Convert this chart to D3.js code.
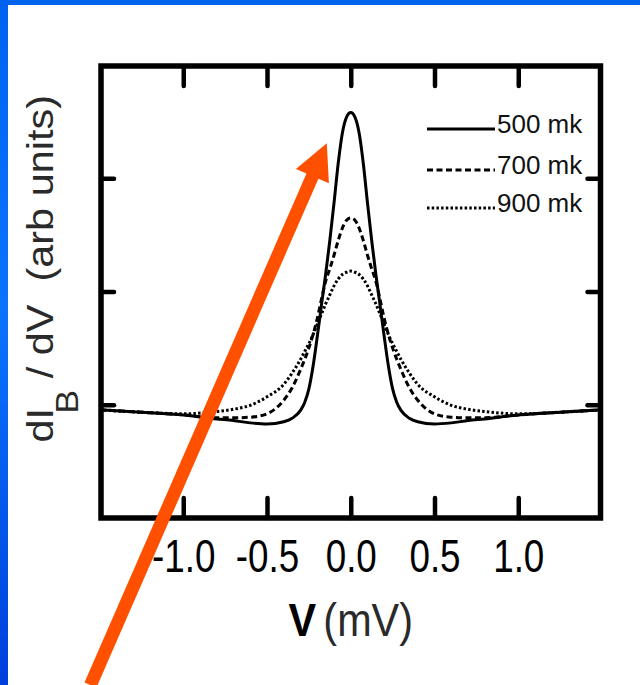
<!DOCTYPE html>
<html>
<head>
<meta charset="utf-8">
<script src="https://cdn.jsdelivr.net/npm/d3@7"></script>
<style>
  body { margin: 0; background: #fff; }
  text { font-family: 'Liberation Sans', Arial, sans-serif; }
</style>
</head>
<body>
<div id="wrapper"></div>
<script>
// bias voltage (mV) and conductance curves (arb units)
const voltage = [-1.5, -1.2, -1.0, -0.8, -0.7, -0.6, -0.5, -0.4, -0.35, -0.3, -0.275, -0.25, -0.225, -0.2, -0.175, -0.15, -0.125, -0.1, -0.075, -0.05, -0.025, 0,
  0.025, 0.05, 0.075, 0.1, 0.125, 0.15, 0.175, 0.2, 0.225, 0.25, 0.275, 0.3, 0.35, 0.4, 0.5, 0.6, 0.7, 0.8, 1.0, 1.2, 1.5]

const cond500 = [-0.045, -0.07, -0.09, -0.125, -0.14, -0.16, -0.17, -0.15, -0.12, -0.05, 0.02, 0.14, 0.34, 0.60, 0.88, 1.15, 1.45, 1.78, 2.13, 2.40, 2.54, 2.58,
  2.54, 2.40, 2.13, 1.78, 1.45, 1.15, 0.88, 0.60, 0.34, 0.14, 0.02, -0.05, -0.12, -0.15, -0.17, -0.16, -0.14, -0.125, -0.09, -0.07, -0.045]

const cond700 = [-0.045, -0.07, -0.09, -0.115, -0.115, -0.11, -0.08, 0.04, 0.15, 0.31, 0.40, 0.50, 0.62, 0.76, 0.93, 1.09, 1.20, 1.32, 1.45, 1.56, 1.63, 1.65,
  1.63, 1.56, 1.45, 1.32, 1.20, 1.09, 0.93, 0.76, 0.62, 0.50, 0.40, 0.31, 0.15, 0.04, -0.08, -0.11, -0.115, -0.115, -0.09, -0.07, -0.045]

const cond900 = [-0.045, -0.07, -0.08, -0.06, -0.04, -0.005, 0.07, 0.18, 0.28, 0.40, 0.47, 0.54, 0.62, 0.71, 0.80, 0.89, 0.97, 1.05, 1.11, 1.15, 1.17, 1.18,
  1.17, 1.15, 1.11, 1.05, 0.97, 0.89, 0.80, 0.71, 0.62, 0.54, 0.47, 0.40, 0.28, 0.18, 0.07, -0.005, -0.04, -0.06, -0.08, -0.07, -0.045]

const seriesNames = ['500 mk', '700 mk', '900 mk']
const xTicks = [-1, -0.5, 0, 0.5, 1]
const xTickLabels = ['-1.0', '-0.5', '0.0', '0.5', '1.0']
const yTicks = [0, 1, 2]

// the orange arrow, in data units: tail then tip
const arrowV = [-1.554, -0.143]
const arrowY = [-2.475, 2.31]

function drawChart() {
  const dimensions = {
    width: 640,
    height: 685,
    plot: { left: 99.5, right: 602, top: 65, bottom: 518 },
  }

  const svg = d3.select('#wrapper')
    .append('svg')
    .attr('width', dimensions.width)
    .attr('height', dimensions.height)
    .style('display', 'block')

  // slide frame
  const defs = svg.append('defs')
  const grad = defs.append('linearGradient')
    .attr('id', 'edge')
    .attr('x1', 0).attr('y1', 0).attr('x2', 0).attr('y2', 1)
  grad.append('stop').attr('offset', '0%').attr('stop-color', '#0063f0')
  grad.append('stop').attr('offset', '45%').attr('stop-color', '#0a74ff')
  grad.append('stop').attr('offset', '100%').attr('stop-color', '#0040dc')

  svg.append('rect')
    .attr('width', dimensions.width).attr('height', dimensions.height)
    .attr('fill', '#fff')
  svg.append('rect')
    .attr('width', 8).attr('height', dimensions.height)
    .attr('fill', 'url(#edge)')
  svg.append('rect')
    .attr('width', dimensions.width).attr('height', 5)
    .attr('fill', '#0063f0')

  const xScale = d3.scaleLinear()
    .domain([-1.5, 1.5])
    .range([dimensions.plot.left, dimensions.plot.right])

  const yScale = d3.scaleLinear()
    .domain([-1, 3])
    .range([dimensions.plot.bottom, dimensions.plot.top])

  const dashes = [null, '6,3.5', '2.5,2.2']
  const series = [cond500, cond700, cond900]

  const lineGenerator = d3.line()
    .x((d, i) => xScale(voltage[i]))
    .y(d => yScale(d))
    .curve(d3.curveMonotoneX)

  svg.append('g').selectAll('path')
    .data(series)
    .enter().append('path')
    .attr('d', lineGenerator)
    .attr('fill', 'none')
    .attr('stroke', '#000')
    .attr('stroke-width', 3)
    .attr('stroke-dasharray', (d, i) => dashes[i])

  // frame
  const [x0, x1] = xScale.range()
  const [y0, y1] = yScale.range()
  svg.append('rect')
    .attr('x', x0 + 1.5)
    .attr('y', y1 + 1)
    .attr('width', x1 - x0 - 3)
    .attr('height', y0 - y1 - 1)
    .attr('fill', 'none')
    .attr('stroke', '#000')
    .attr('stroke-width', 5.5)

  // ticks
  const styleTicks = g => {
    g.select('.domain').remove()
    g.selectAll('.tick line')
      .attr('stroke', '#000')
      .attr('stroke-width', 4.5)
      .attr('stroke-linecap', 'round')
  }

  const xAxis = svg.append('g')
    .attr('transform', `translate(0, ${y0})`)
    .call(d3.axisBottom(xScale)
      .tickValues(xTicks)
      .tickSize(-20)
      .tickFormat((d, i) => xTickLabels[i]))
    .call(styleTicks)

  xAxis.selectAll('.tick text')
    .attr('y', 54)
    .attr('dy', 0)
    .attr('fill', '#000')
    .attr('font-size', 46)
    .attr('font-family', "'Liberation Sans', Arial, sans-serif")
    .attr('transform', 'scale(0.8, 1)')

  svg.append('g')
    .attr('transform', `translate(0, ${y1 + 1})`)
    .call(d3.axisTop(xScale).tickValues(xTicks).tickSize(-20).tickFormat(''))
    .call(styleTicks)

  svg.append('g')
    .attr('transform', `translate(${x0 + 1.5}, 0)`)
    .call(d3.axisLeft(yScale).tickValues(yTicks).tickSize(-13).tickFormat(''))
    .call(styleTicks)

  svg.append('g')
    .attr('transform', `translate(${x1 - 1.5}, 0)`)
    .call(d3.axisRight(yScale).tickValues(yTicks).tickSize(-13).tickFormat(''))
    .call(styleTicks)

  // axis titles
  const xTitle = svg.append('text')
    .attr('transform', `translate(${xScale(0)}, 636) scale(0.9, 1)`)
    .attr('text-anchor', 'middle')
    .attr('font-size', 46)
  xTitle.append('tspan')
    .attr('font-weight', 'bold')
    .attr('fill', '#000')
    .text('V')
  xTitle.append('tspan')
    .attr('dx', 8)
    .attr('fill', '#2a2a2a')
    .text('(mV)')

  const yTitle = svg.append('text')
    .attr('transform', `translate(53, ${yScale(1.2)}) rotate(-90) scale(1.12, 1)`)
    .attr('text-anchor', 'middle')
    .attr('font-size', 37)
    .attr('fill', '#2a2a2a')
    .style('white-space', 'pre')
  yTitle.append('tspan').text('dI')
  yTitle.append('tspan')
    .attr('font-size', 32)
    .attr('dx', -5)
    .attr('dy', 25)
    .text('B')
  yTitle.append('tspan')
    .attr('dy', -25)
    .text(' / dV  (arb units)')

  // legend
  const legendY = [129, 170, 208]
  const legend = svg.append('g')
  legend.selectAll('line')
    .data(seriesNames)
    .enter().append('line')
    .attr('x1', 427).attr('x2', 495)
    .attr('y1', (d, i) => legendY[i])
    .attr('y2', (d, i) => legendY[i])
    .attr('stroke', '#000')
    .attr('stroke-width', 3)
    .attr('stroke-dasharray', (d, i) => dashes[i])
  legend.selectAll('text')
    .data(seriesNames)
    .enter().append('text')
    .attr('x', 497)
    .attr('y', (d, i) => legendY[i] + 4)
    .attr('font-size', 26)
    .attr('fill', '#111')
    .text(d => d)

  // arrow
  const tail = [xScale(arrowV[0]), yScale(arrowY[0])]
  const tip = [xScale(arrowV[1]), yScale(arrowY[1])]
  const len = Math.hypot(tip[0] - tail[0], tip[1] - tail[1])
  const ux = (tip[0] - tail[0]) / len
  const uy = (tip[1] - tail[1]) / len
  const headLen = 36
  const headHalf = 18
  const base = [tip[0] - ux * headLen, tip[1] - uy * headLen]

  svg.append('line')
    .attr('x1', tail[0]).attr('y1', tail[1])
    .attr('x2', base[0] + ux * 2).attr('y2', base[1] + uy * 2)
    .attr('stroke', '#ff5000')
    .attr('stroke-width', 13)

  svg.append('path')
    .attr('d', d3.line()([
      tip,
      [base[0] - uy * headHalf, base[1] + ux * headHalf],
      [base[0] + uy * headHalf, base[1] - ux * headHalf],
    ]) + 'Z')
    .attr('fill', '#ff5000')
}

drawChart()
</script>
</body>
</html>
